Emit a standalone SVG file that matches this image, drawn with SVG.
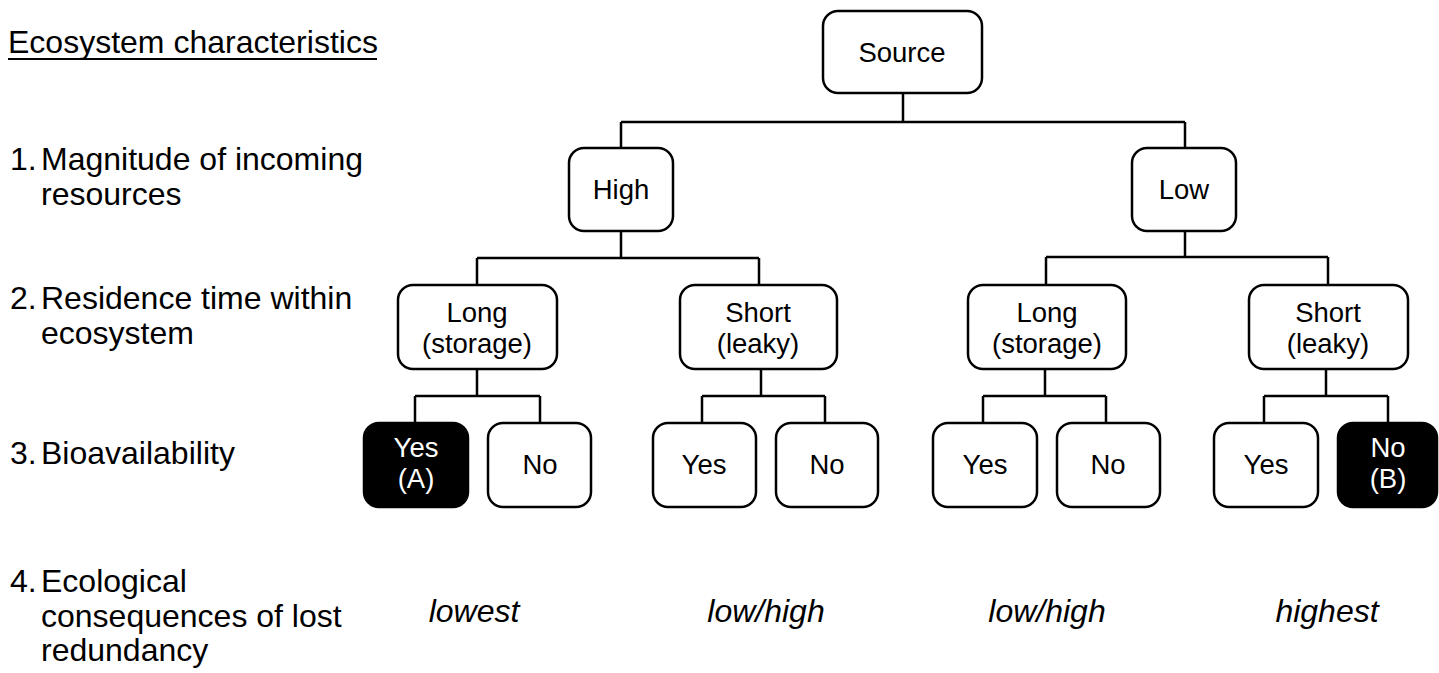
<svg xmlns="http://www.w3.org/2000/svg" width="1439" height="673" viewBox="0 0 1439 673">
<style>
.box{fill:#fff;stroke:#000;stroke-width:2.5}
.dark{fill:#000;stroke:#000;stroke-width:2.5}
.t{font-family:"Liberation Sans",Arial,sans-serif;font-size:27.5px;fill:#000;text-anchor:middle}
.tw{font-family:"Liberation Sans",Arial,sans-serif;font-size:27.5px;fill:#fff;text-anchor:middle}
.lab{font-family:"Liberation Sans",Arial,sans-serif;font-size:32px;fill:#000}
.it{font-family:"Liberation Sans",Arial,sans-serif;font-size:32px;font-style:italic;fill:#000;text-anchor:middle}
.c{fill:none;stroke:#000;stroke-width:2.5}
</style>
<rect width="1439" height="673" fill="#fff"/>
<g id="labels">
<text class="lab" x="8" y="53">Ecosystem characteristics</text>
<line x1="8" y1="59" x2="377" y2="59" stroke="#000" stroke-width="2"/>
<text class="lab" x="10" y="170">1.</text>
<text class="lab" x="41" y="170">Magnitude of incoming</text>
<text class="lab" x="41" y="205">resources</text>
<text class="lab" x="10" y="309">2.</text>
<text class="lab" x="41" y="309">Residence time within</text>
<text class="lab" x="41" y="344">ecosystem</text>
<text class="lab" x="10" y="464">3.</text>
<text class="lab" x="41" y="464">Bioavailability</text>
<text class="lab" x="10" y="592">4.</text>
<text class="lab" x="41" y="592">Ecological</text>
<text class="lab" x="41" y="627">consequences of lost</text>
<text class="lab" x="41" y="661">redundancy</text>
</g>
<g id="connectors">
<path class="c" d="M903,93V122M621,122H1185M621,122V148M1185,122V148"/>
<path class="c" d="M621,231V258M477,258H759M477,258V285M759,258V285"/>
<path class="c" d="M1185,231V257M1046,257H1328M1046,257V285M1328,257V285"/>
<path class="c" d="M477,369V396M415,396H540M415,396V423M540,396V423"/>
<path class="c" d="M761,369V396M702,396H825M702,396V423M825,396V423"/>
<path class="c" d="M1045,369V396M983,396H1106M983,396V423M1106,396V423"/>
<path class="c" d="M1326,369V396M1264,396H1388M1264,396V423M1388,396V423"/>
</g>
<g id="source"><rect class="box" x="823" y="11" width="159" height="82" rx="15"/><text class="t" x="902" y="62">Source</text></g>
<g id="high"><rect class="box" x="569" y="148" width="104" height="83" rx="15"/><text class="t" x="621" y="199">High</text></g>
<g id="low"><rect class="box" x="1132" y="148" width="104" height="83" rx="15"/><text class="t" x="1184" y="199">Low</text></g>
<g id="long-high"><rect class="box" x="398" y="285" width="159" height="84" rx="15"/><text class="t" x="477" y="322">Long</text><text class="t" x="477" y="353">(storage)</text></g>
<g id="short-high"><rect class="box" x="680" y="285" width="157" height="84" rx="15"/><text class="t" x="758" y="322">Short</text><text class="t" x="758" y="353">(leaky)</text></g>
<g id="long-low"><rect class="box" x="968" y="285" width="158" height="84" rx="15"/><text class="t" x="1047" y="322">Long</text><text class="t" x="1047" y="353">(storage)</text></g>
<g id="short-low"><rect class="box" x="1249" y="285" width="159" height="84" rx="15"/><text class="t" x="1328" y="322">Short</text><text class="t" x="1328" y="353">(leaky)</text></g>
<g id="yes-a"><rect class="dark" x="364" y="423" width="104" height="84" rx="15"/><text class="tw" x="416" y="457">Yes</text><text class="tw" x="416" y="488">(A)</text></g>
<g id="no-1"><rect class="box" x="488" y="423" width="103" height="84" rx="15"/><text class="t" x="540" y="474">No</text></g>
<g id="yes-2"><rect class="box" x="653" y="423" width="103" height="84" rx="15"/><text class="t" x="704" y="474">Yes</text></g>
<g id="no-2"><rect class="box" x="776" y="423" width="102" height="84" rx="15"/><text class="t" x="827" y="474">No</text></g>
<g id="yes-3"><rect class="box" x="933" y="423" width="104" height="84" rx="15"/><text class="t" x="985" y="474">Yes</text></g>
<g id="no-3"><rect class="box" x="1057" y="423" width="103" height="84" rx="15"/><text class="t" x="1108" y="474">No</text></g>
<g id="yes-4"><rect class="box" x="1214" y="423" width="104" height="84" rx="15"/><text class="t" x="1266" y="474">Yes</text></g>
<g id="no-b"><rect class="dark" x="1338" y="423" width="99" height="84" rx="15"/><text class="tw" x="1388" y="457">No</text><text class="tw" x="1388" y="488">(B)</text></g>
<g id="outcomes">
<text class="it" x="474" y="622">lowest</text>
<text class="it" x="766" y="622">low/high</text>
<text class="it" x="1047" y="622">low/high</text>
<text class="it" x="1327" y="622">highest</text>
</g>
</svg>
